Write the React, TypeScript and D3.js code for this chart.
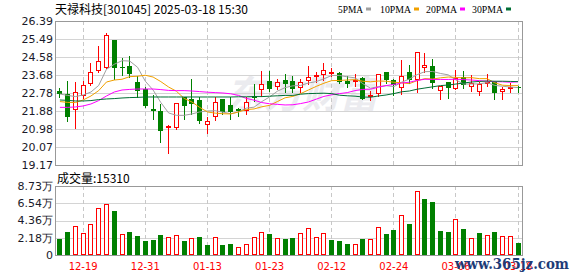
import React from 'react';
import * as d3 from 'd3';

const dates = ['12-16','12-17','12-18','12-19','12-20','12-23','12-24','12-25','12-26','12-27','12-30','12-31',
  '01-02','01-03','01-06','01-07','01-08','01-09','01-10','01-13','01-14','01-15','01-16','01-17','01-20','01-21','01-22','01-23','01-24','01-27',
  '02-05','02-06','02-07','02-10','02-11','02-12','02-13','02-14','02-17','02-18','02-19','02-20','02-21','02-24','02-25','02-26','02-27','02-28',
  '03-03','03-04','03-05','03-06','03-07','03-10','03-11','03-12','03-13','03-14','03-17','03-18'];

const opens = [22.88,22.73,21.91,22.61,23.23,23.87,24.05,25.44,24.10,24.13,23.33,22.96,21.96,21.88,21.04,21.01,22.56,22.48,22.43,21.16,
  21.59,22.48,22.18,21.96,21.89,22.63,22.91,23.38,23.10,23.41,23.38,23.01,23.40,23.60,23.67,23.73,23.77,23.38,23.40,23.52,
  22.56,22.71,23.82,23.43,23.01,23.82,23.43,24.05,24.13,22.90,23.31,22.98,23.57,23.10,22.85,23.26,23.35,22.81,23.00,23.10];
const highs = [23.02,23.38,23.32,23.37,24.27,25.14,25.77,25.46,24.52,24.63,23.63,23.10,22.68,22.23,21.16,22.28,22.60,23.48,22.60,21.56,
  22.56,22.50,22.60,22.03,22.56,23.21,23.88,23.90,23.48,23.73,23.63,23.48,24.13,23.82,24.30,24.02,23.82,23.63,23.73,23.57,
  22.90,23.74,23.84,23.47,24.43,24.18,24.85,24.77,24.47,23.15,23.35,23.93,23.88,23.68,23.35,23.73,23.37,23.10,23.26,23.12];
const lows = [22.56,21.40,21.04,22.53,23.17,23.83,24.02,23.47,23.68,23.57,22.56,22.06,21.48,20.34,19.79,20.99,21.49,21.73,21.29,20.79,
  21.43,21.71,21.49,21.64,21.73,22.38,22.63,22.88,22.98,22.85,22.81,22.85,23.23,23.31,23.43,23.65,23.26,23.10,23.15,22.48,
  22.43,22.63,23.30,22.66,22.73,23.26,22.81,23.82,23.01,22.48,22.55,22.96,23.01,22.90,22.68,23.15,22.48,22.48,22.81,22.85];
const closes = [22.73,21.59,22.81,23.16,23.85,24.37,25.67,24.05,24.07,23.72,22.86,22.13,21.89,20.89,21.11,22.26,22.14,22.23,21.39,21.36,
  22.31,21.83,21.81,21.86,22.31,22.55,23.21,22.96,23.31,23.23,22.98,23.31,23.57,23.68,23.92,23.82,23.31,23.21,23.43,22.50,
  22.66,23.72,23.43,23.18,23.63,23.43,24.82,24.18,23.26,23.13,23.05,23.52,23.18,23.26,23.21,23.35,22.80,22.98,23.06,23.04];
const volumes = [19900,28700,36700,28300,39600,59400,64800,56000,26700,29600,24500,18200,19500,25800,22900,25800,18200,21600,23100,13200,
  22900,13200,14500,10300,14300,22900,29400,27000,21600,20800,21800,27900,34200,22900,27900,19500,18200,14500,14300,20800,
  20600,35500,27000,32100,50700,39600,81100,71100,67300,30800,29600,45500,33300,21600,28300,25800,29600,24100,24100,15310];

const ma5 = [22.73,22.66,22.60,22.68,22.83,23.16,23.97,24.22,24.40,24.38,24.07,23.37,22.93,22.30,21.78,21.66,21.66,21.73,21.83,21.88,
  21.89,21.82,21.74,21.83,22.02,22.07,22.35,22.58,22.87,23.05,23.14,23.16,23.28,23.35,23.49,23.66,23.66,23.59,23.54,23.25,
  23.02,23.10,23.15,23.10,23.32,23.48,23.70,23.85,23.86,23.76,23.69,23.43,23.23,23.23,23.24,23.30,23.16,23.12,23.08,23.05];
const ma10 = [22.35,22.31,22.30,22.43,22.63,22.90,23.33,23.43,23.47,23.60,23.62,23.67,23.58,23.35,23.08,22.87,22.51,22.33,22.06,21.83,
  21.77,21.74,21.73,21.83,21.95,21.98,22.09,22.16,22.35,22.54,22.61,22.75,22.93,23.11,23.27,23.40,23.41,23.43,23.45,23.37,
  23.34,23.38,23.37,23.32,23.29,23.25,23.40,23.50,23.48,23.54,23.58,23.56,23.54,23.55,23.50,23.50,23.29,23.17,23.15,23.15];
const ma20 = [22.06,22.06,22.08,22.13,22.23,22.40,22.63,22.83,22.93,22.96,22.98,22.98,22.98,22.95,22.91,22.90,22.90,22.88,22.85,22.82,
  22.80,22.78,22.74,22.66,22.51,22.42,22.30,22.24,22.21,22.18,22.19,22.25,22.33,22.47,22.61,22.69,22.75,22.80,22.90,22.96,
  22.97,23.07,23.15,23.21,23.28,23.32,23.41,23.47,23.46,23.46,23.46,23.47,23.45,23.43,23.40,23.37,23.35,23.34,23.32,23.34];
const ma30 = [22.43,22.41,22.38,22.38,22.40,22.45,22.48,22.50,22.53,22.55,22.56,22.58,22.58,22.58,22.58,22.58,22.58,22.58,22.58,22.58,
  22.58,22.58,22.58,22.59,22.59,22.60,22.60,22.62,22.64,22.66,22.66,22.72,22.75,22.76,22.77,22.75,22.67,22.64,22.62,22.58,
  22.57,22.63,22.68,22.75,22.84,22.88,22.97,23.03,23.09,23.15,23.18,23.23,23.28,23.33,23.36,23.38,23.37,23.37,23.36,23.35];

const priceTicks = [26.39, 25.49, 24.58, 23.68, 22.78, 21.88, 20.98, 20.07, 19.17];
const volTicks = [87300, 65400, 43600, 21800, 0];
const volTickLabels = ['8.73万', '6.54万', '4.36万', '2.18万', '0'];
const xTickDates = ['12-19', '12-31', '01-13', '01-23', '02-12', '02-24', '03-06', '03-18'];

const maSeries = [
  { name: '5PMA', values: ma5, color: '#a0a0a0' },
  { name: '10PMA', values: ma10, color: '#f0a000' },
  { name: '20PMA', values: ma20, color: '#ff00ff' },
  { name: '30PMA', values: ma30, color: '#006f35' },
];

const RED = '#ff0000';
const GREEN = '#008000';
const FRAME = '#999999';
const GRID = '#d4d4d4';

export default function App() {
  const PL = 56, PR = 522;
  const P_TOP = 21, P_BOT = 165;
  const V_TOP = 186, V_BOT = 255;

  const idx = d3.range(dates.length);
  const x = d3.scaleBand<number>().domain(idx).range([PL, PR]).padding(0);
  const bw = x.bandwidth();
  const cxf = (i: number) => (x(i) as number) + bw / 2;
  const cx = (i: number) => Math.floor(cxf(i));
  const y = d3.scaleLinear().domain([19.17, 26.39]).range([P_BOT, P_TOP]);
  const yv = d3.scaleLinear().domain([0, 87300]).range([V_BOT, V_TOP]);

  const line = (vals: number[]) =>
    d3.line<number>().x((_, i) => cxf(i)).y((d) => y(d))(vals) || '';

  const tickIdx = xTickDates.map((d) => dates.indexOf(d));

  const sansNum = "'DejaVu Sans', Verdana, sans-serif";
  const cjk = "'Noto Sans CJK SC', sans-serif";

  return (
    <svg width={578} height={276} style={{ position: 'absolute', left: 0, top: 0, display: 'block', background: '#fff' }}>
      <rect x={0} y={0} width={578} height={276} fill="#fff" />
      {/* faint logo watermark */}
      <text x={226} y={108} fontFamily={cjk} fontSize={38} fontWeight={700} fontStyle="italic" fill="#ebebef">东方财富</text>

      {/* header */}
      <text x={55} y={13.5} fontFamily={cjk} fontSize={12} fill="#000">天禄科技[301045] 2025-03-18 15:30</text>
      {/* legend */}
      {maSeries.map((s, k) => {
        const lx = [338, 380, 426, 472][k];
        const w = s.name.length === 4 ? 25 : 31;
        return (
          <g key={s.name}>
            <text x={lx} y={12.5} fontFamily="'Liberation Serif', serif" fontSize={11} fill="#000" textLength={w} lengthAdjust="spacingAndGlyphs">{s.name}</text>
            <rect x={lx + w + 3} y={7.5} width={5} height={3} fill={s.color} />
          </g>
        );
      })}

      {/* grid */}
      <g shapeRendering="crispEdges">
        {priceTicks.slice(1, -1).map((t) => (
          <line key={t} x1={PL} x2={PR} y1={Math.round(y(t)) + 0.5} y2={Math.round(y(t)) + 0.5} stroke={GRID} />
        ))}
        {volTicks.slice(1, -1).map((t) => (
          <line key={t} x1={PL} x2={PR} y1={Math.round(yv(t)) + 0.5} y2={Math.round(yv(t)) + 0.5} stroke={GRID} />
        ))}
        {tickIdx.map((i) => (
          <g key={i}>
            <line x1={cx(i) + 0.5} x2={cx(i) + 0.5} y1={P_TOP} y2={P_BOT} stroke="#c8c8c8" strokeDasharray="4,3" />
            <line x1={cx(i) + 0.5} x2={cx(i) + 0.5} y1={V_TOP} y2={V_BOT} stroke="#c8c8c8" strokeDasharray="4,3" />
          </g>
        ))}
      </g>

      {/* y labels */}
      {priceTicks.map((t) => (
        <text key={t} x={53} y={y(t)} dy="0.36em" textAnchor="end" fontFamily={sansNum} fontSize={11} fill="#1a1a2a">{t.toFixed(2)}</text>
      ))}
      {volTicks.map((t, k) => (
        <text key={t} x={53} y={yv(t)} dy="0.36em" textAnchor="end" fontFamily={sansNum} fontSize={11} fill="#1a1a2a">{volTickLabels[k]}</text>
      ))}

      {/* candles */}
      <g shapeRendering="crispEdges">
        {idx.map((i) => {
          const o = opens[i], c = closes[i], h = highs[i], l = lows[i];
          const up = c >= o;
          const col = up ? RED : GREEN;
          const X = cx(i);
          const yt = Math.round(y(Math.max(o, c)));
          const yb = Math.round(y(Math.min(o, c)));
          const yh = Math.round(y(h));
          const yl = Math.round(y(l));
          return (
            <g key={i}>
              <line x1={X + 0.5} x2={X + 0.5} y1={yh} y2={yl + 1} stroke={col} />
              {up ? (
                yb - yt >= 2 ? (
                  <rect x={X - 1.5} y={yt + 0.5} width={4} height={yb - yt - 1} fill="#fff" stroke={col} />
                ) : (
                  <rect x={X - 2} y={yt} width={5} height={Math.max(yb - yt, 1) + 1} fill={col} />
                )
              ) : (
                <rect x={X - 2} y={yt} width={5} height={Math.max(yb - yt, 1)} fill={col} />
              )}
            </g>
          );
        })}
      </g>

      {/* moving averages */}
      {maSeries.map((s) => (
        <path key={s.name} d={line(s.values)} fill="none" stroke={s.color} strokeWidth={1} />
      ))}

      {/* volume label */}
      <text x={57} y={183} fontFamily={cjk} fontSize={12} fill="#000">成交量:15310</text>

      {/* volume bars */}
      <g shapeRendering="crispEdges">
        {idx.map((i) => {
          const v = volumes[i];
          const up = i === 0 ? closes[0] >= opens[0] : closes[i] >= closes[i - 1];
          const X = cx(i);
          const top = Math.round(yv(v));
          return up ? (
            <rect key={i} x={X - 1.5} y={top + 0.5} width={4} height={V_BOT - top - 1} fill="#fff" stroke={RED} />
          ) : (
            <rect key={i} x={X - 2} y={top} width={5} height={V_BOT - top} fill={GREEN} />
          );
        })}
      </g>

      {/* frames */}
      <g shapeRendering="crispEdges" fill="none" stroke={FRAME}>
        <rect x={PL - 0.5} y={P_TOP + 0.5} width={PR - PL + 1} height={P_BOT - P_TOP} />
        <rect x={PL - 0.5} y={V_TOP + 0.5} width={PR - PL + 1} height={V_BOT - V_TOP} />
      </g>

      {/* x labels */}
      {tickIdx.map((i, k) => (
        <text key={i} x={cxf(i)} y={270} textAnchor="middle" fontFamily={sansNum} fontSize={10} fill={RED}>{xTickDates[k]}</text>
      ))}

      {/* site watermark */}
      <text x={455} y={269} fontFamily="'DejaVu Serif', serif" fontSize={15} fontWeight={700} fill="#1d3c78" textLength={114} lengthAdjust="spacingAndGlyphs">www.365jz.com</text>
    </svg>
  );
}
